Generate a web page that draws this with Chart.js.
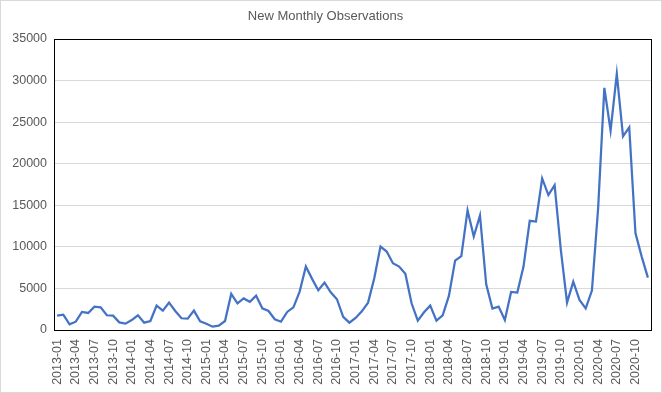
<!DOCTYPE html>
<html>
<head>
<meta charset="utf-8">
<script src="https://cdn.jsdelivr.net/npm/chart.js@4"></script>
<style>
  html, body { margin: 0; padding: 0; background: #fff; }
  #wrap { width: 662px; height: 393px; }
</style>
</head>
<body>
<div id="wrap"><canvas id="obsChart"></canvas></div>
<script>
/* ── Data ───────────────────────────────────────────────────── */
const years  = [2013, 2014, 2015, 2016, 2017, 2018, 2019, 2020];
const months = ['01', '02', '03', '04', '05', '06', '07', '08', '09', '10', '11', '12'];
const categories = years.flatMap(y => months.map(m => `${y}-${m}`));

const observations = [
    1720, 1850, 690, 1000, 2170, 2050, 2810, 2730, 1770, 1720, 920, 760,     // 2013
    1200, 1770, 880, 1080, 2930, 2330, 3290, 2290, 1410, 1370, 2330, 1040,   // 2014
    760, 400, 520, 1080, 4340, 3210, 3800, 3390, 4120, 2610, 2290, 1290,     // 2015
    1000, 2170, 2730, 4620, 7630, 6150, 4780, 5700, 4540, 3700, 1570, 880,   // 2016
    1450, 2250, 3290, 6230, 10040, 9440, 8030, 7630, 6750, 3210, 1120, 2130, // 2017
    2930, 1120, 1750, 4100, 8350, 8880, 14380, 11250, 13780, 5500, 2570, 2810, // 2018
    1200, 4580, 4500, 7630, 13130, 13050, 18230, 16230, 17430, 9640, 3290, 5820, // 2019
    3620, 2610, 4740, 14660, 29120, 23980, 30810, 23290, 24380, 11650, 8830, 6300, // 2020
];

const yTicks = { min: 0, max: 35000, step: 5000 };
const chartTitle = 'New Monthly Observations';

/* ── Palette ────────────────────────────────────────────────── */
const palette = {
    line:  '#4472C4',
    grid:  '#d9d9d9',
    text:  '#595959',
    frame: '#000000',
    outer: '#d9d9d9',
};

/* frame round the plot + light border round the chart */
const framePlugin = {
    id: 'frame',
    beforeDraw(chart) {
        const { ctx, width, height } = chart;
        ctx.save();
        ctx.strokeStyle = palette.outer;
        ctx.lineWidth = 1;
        ctx.strokeRect(0.5, 0.5, width - 1, height - 1);
        ctx.restore();
    },
    afterDatasetsDraw(chart) {
        const { ctx, chartArea: a } = chart;
        ctx.save();
        ctx.strokeStyle = palette.frame;
        ctx.lineWidth = 1;
        ctx.strokeRect(Math.round(a.left) + 0.5, Math.round(a.top) + 0.5,
            Math.round(a.right - a.left), Math.round(a.bottom - a.top));
        ctx.restore();
    },
};

Chart.defaults.font.family = '"Liberation Sans", Arial, sans-serif';
Chart.defaults.color = palette.text;

new Chart(document.getElementById('obsChart'), {
    type: 'line',
    data: {
        labels: categories,
        datasets: [{
            label: 'Observations',
            data: observations,
            borderColor: palette.line,
            borderWidth: 2.25,
            pointRadius: 0,
            tension: 0,
            fill: false,
        }],
    },
    options: {
        responsive: true,
        maintainAspectRatio: false,
        animation: false,
        layout: { padding: { left: 0, right: 11, top: 0, bottom: 0 } },
        plugins: {
            legend: { display: false },
            tooltip: { enabled: false },
            title: {
                display: true,
                text: chartTitle,
                color: palette.text,
                font: { size: 13, weight: 'normal' },
                padding: { top: 9, bottom: 14.4 },
            },
        },
        scales: {
            x: {
                type: 'category',
                offset: true,
                grid: { display: false, drawTicks: false },
                border: { display: false },
                afterFit: s => {
                    s.height = 63;
                    s.paddingLeft = 0;
                    s.paddingRight = 0;
                },
                ticks: {
                    autoSkip: false,
                    minRotation: 90,
                    maxRotation: 90,
                    padding: 9,
                    font: { size: 12.5 },
                    callback: (v, i) => (i % 3 === 0 ? categories[i] : ''),
                },
            },
            y: {
                min: yTicks.min,
                max: yTicks.max,
                grid: { color: palette.grid, drawTicks: false },
                border: { display: false },
                afterFit: s => { s.width = 54; },
                ticks: {
                    stepSize: yTicks.step,
                    padding: 7,
                    font: { size: 12.5 },
                    callback: v => String(v),
                },
            },
        },
    },
    plugins: [framePlugin],
});
</script>
</body>
</html>
